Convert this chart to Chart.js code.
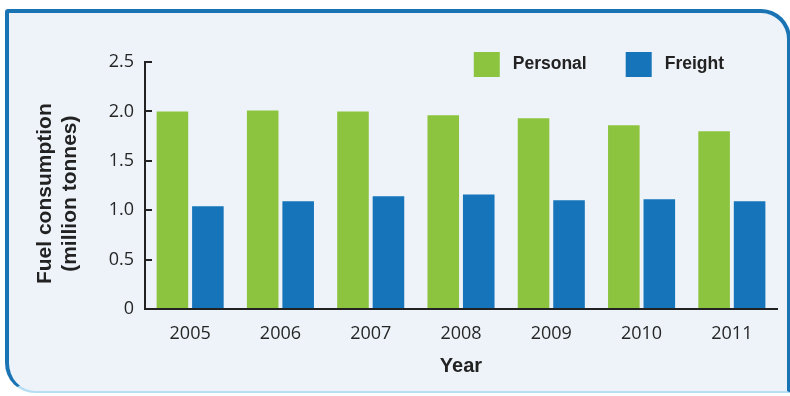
<!DOCTYPE html>
<html>
<head>
<meta charset="utf-8">
<script src="https://cdn.jsdelivr.net/npm/chart.js@4"></script>
<style>
  html, body { margin: 0; padding: 0; background: #ffffff; }
  body { width: 790px; height: 396px; position: relative; overflow: hidden; }
  #frame {
    position: absolute; left: 5px; top: 9px; width: 786px; height: 384px;
    box-sizing: border-box; background: #eef3f9;
    border: 4px solid #1a73b3; border-bottom: 2px solid #b7def3;
    border-radius: 3px 30px 0 30px;
  }
  #wrap { position: absolute; left: 0; top: 0; width: 790px; height: 396px; }
</style>
</head>
<body>
<div id="frame"></div>
<div id="wrap"><canvas id="c" width="790" height="396"></canvas></div>
<script>
const years = ['2005', '2006', '2007', '2008', '2009', '2010', '2011'];
const personal = [2.00, 2.01, 2.00, 1.96, 1.93, 1.86, 1.80];
const freight = [1.04, 1.09, 1.14, 1.16, 1.10, 1.11, 1.09];
const yTickLabels = ['0', '0.5', '1.0', '1.5', '2.0', '2.5'];
const seriesNames = ['Personal', 'Freight'];
const yTitle = ['Fuel consumption', '(million tonnes)'];
const xTitle = 'Year';

const GREEN = '#8cc43f';
const BLUE = '#1574ba';

const customLegend = {
  id: 'customLegend',
  afterDraw(chart) {
    const ctx = chart.ctx;
    const ca = chart.chartArea;
    const font = 'bold 17.5px "Liberation Sans", Arial, sans-serif';
    ctx.save();
    ctx.font = font;
    const boxW = 26, boxH = 25, gap = 13, spacing = 39;
    const items = chart.data.datasets.map(d => ({ text: d.label, color: d.backgroundColor, w: ctx.measureText(d.label).width }));
    let total = 0;
    items.forEach((it, i) => { total += boxW + gap + it.w + (i < items.length - 1 ? spacing : 0); });
    let x = ca.right - 53 - total;
    const cy = ca.top + 2.5;
    items.forEach(it => {
      ctx.fillStyle = it.color;
      ctx.fillRect(x, cy - boxH / 2, boxW, boxH);
      x += boxW + gap;
      ctx.fillStyle = '#222';
      ctx.textBaseline = 'middle';
      ctx.textAlign = 'left';
      ctx.fillText(it.text, x, cy);
      x += it.w + spacing;
    });
    ctx.restore();
  }
};

// pad the rotated title lines so they sit slightly lower, as in the reference
const yTitlePadded = yTitle.map(t => t + '\u2002 ');

new Chart(document.getElementById('c'), {
  type: 'bar',
  data: {
    labels: years,
    datasets: [
      { label: seriesNames[0], data: personal, backgroundColor: GREEN },
      { label: seriesNames[1], data: freight, backgroundColor: BLUE }
    ]
  },
  options: {
    responsive: false,
    animation: false,
    devicePixelRatio: 1,
    layout: { padding: { top: 62, right: 13, bottom: 0, left: 0 } },
    categoryPercentage: 0.786,
    barPercentage: 0.89,
    plugins: {
      legend: { display: false },
      tooltip: { enabled: false }
    },
    scales: {
      x: {
        grid: { display: false },
        border: { display: true, color: '#222', width: 2 },
        ticks: {
          color: '#262626',
          font: { family: '"Open Sans", sans-serif', size: 18 },
          padding: 6,
          maxRotation: 0
        },
        title: {
          display: true, text: xTitle, color: '#222',
          font: { family: '"Liberation Sans", Arial, sans-serif', size: 20, weight: 'bold', lineHeight: 1.2 },
          padding: { top: 0, bottom: 17.5 }
        },
        afterFit(scale) { scale.height = 87; }
      },
      y: {
        min: 0, max: 2.5,
        ticks: {
          stepSize: 0.5,
          color: '#262626',
          font: { family: '"Open Sans", sans-serif', size: 18 },
          padding: 18,
          callback: (v, i) => yTickLabels[i]
        },
        grid: { drawOnChartArea: false, drawTicks: true, tickLength: -7, color: '#222', lineWidth: 2 },
        border: { display: true, color: '#222', width: 2 },
        title: {
          display: true, text: yTitlePadded, color: '#222',
          font: { family: '"Liberation Sans", Arial, sans-serif', size: 21, weight: 'bold', lineHeight: 1.19 },
          padding: { top: 32.5, bottom: 0 }
        },
        afterFit(scale) { scale.width = 145; }
      }
    }
  },
  plugins: [customLegend]
});
</script>
</body>
</html>
